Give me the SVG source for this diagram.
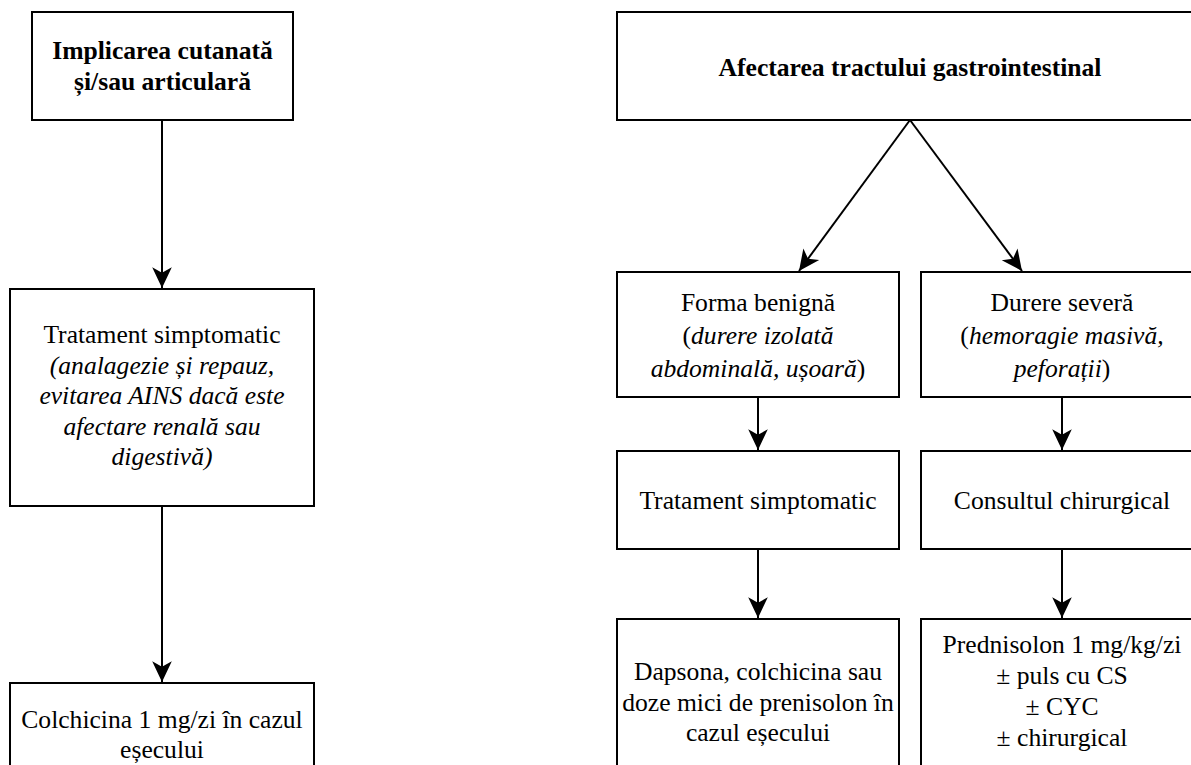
<svg xmlns="http://www.w3.org/2000/svg" width="1191" height="765" viewBox="0 0 1191 765">
<defs>
<marker id="arr" markerUnits="userSpaceOnUse" markerWidth="24" markerHeight="24" viewBox="-20 -10 22 20" refX="0" refY="0" orient="auto">
<path d="M0,0 L-19,-9 L-14,0 L-19,9 Z" fill="#000"/>
</marker>
<style>
.box{fill:#fff;stroke:#000;stroke-width:2}
.t{font-family:"Liberation Serif","Times New Roman",serif;font-size:25.6px;fill:#000;text-anchor:middle}
.b{font-weight:bold}
.i{font-style:italic}
.c{fill:none;stroke:#000;stroke-width:2;marker-end:url(#arr)}
</style>
</defs>
<rect width="1191" height="765" fill="#fff"/>
<g id="connectors">
<line class="c" x1="162" y1="120" x2="162" y2="288"/>
<line class="c" x1="162" y1="506" x2="162" y2="682"/>
<line class="c" x1="910" y1="120" x2="799" y2="271"/>
<line class="c" x1="910" y1="120" x2="1022" y2="271"/>
<line class="c" x1="758" y1="397" x2="758" y2="450"/>
<line class="c" x1="1062" y1="397" x2="1062" y2="450"/>
<line class="c" x1="758" y1="549" x2="758" y2="618"/>
<line class="c" x1="1062" y1="549" x2="1062" y2="618"/>
</g>
<g id="n1">
<rect class="box" x="32" y="12" width="261" height="108"/>
<text class="t b" x="162.5" y="59">Implicarea cutanată</text>
<text class="t b" x="162.5" y="90">și/sau articulară</text>
</g>
<g id="n2">
<rect class="box" x="10" y="289" width="304" height="217"/>
<text class="t" x="162" y="343">Tratament simptomatic</text>
<text class="t i" x="162" y="373.5">(analagezie și repauz,</text>
<text class="t i" x="162" y="404">evitarea AINS dacă este</text>
<text class="t i" x="162" y="434.5">afectare renală sau</text>
<text class="t i" x="162" y="465">digestivă)</text>
</g>
<g id="n3">
<rect class="box" x="10" y="683" width="304" height="100"/>
<text class="t" x="162" y="728">Colchicina 1 mg/zi în cazul</text>
<text class="t" x="162" y="758">eșecului</text>
</g>
<g id="n4">
<rect class="box" x="617" y="12" width="586" height="108"/>
<text class="t b" x="910" y="76">Afectarea tractului gastrointestinal</text>
</g>
<g id="n5">
<rect class="box" x="617" y="272" width="282" height="125"/>
<text class="t" x="758" y="311">Forma benignă</text>
<text class="t" x="758" y="344">(<tspan class="i">durere izolată</tspan></text>
<text class="t" x="758" y="377"><tspan class="i">abdominală, ușoară</tspan>)</text>
</g>
<g id="n6">
<rect class="box" x="921" y="272" width="282" height="125"/>
<text class="t" x="1062" y="311">Durere severă</text>
<text class="t" x="1062" y="344">(<tspan class="i">hemoragie masivă,</tspan></text>
<text class="t" x="1062" y="377"><tspan class="i">peforații</tspan>)</text>
</g>
<g id="n7">
<rect class="box" x="617" y="451" width="282" height="98"/>
<text class="t" x="758" y="509">Tratament simptomatic</text>
</g>
<g id="n8">
<rect class="box" x="921" y="451" width="282" height="98"/>
<text class="t" x="1062" y="509">Consultul chirurgical</text>
</g>
<g id="n9">
<rect class="box" x="617" y="619" width="282" height="170"/>
<text class="t" x="758" y="680">Dapsona, colchicina sau</text>
<text class="t" x="758" y="710.5">doze mici de prenisolon în</text>
<text class="t" x="758" y="741">cazul eșecului</text>
</g>
<g id="n10">
<rect class="box" x="921" y="619" width="282" height="170"/>
<text class="t" x="1062" y="653">Prednisolon 1 mg/kg/zi</text>
<text class="t" x="1062" y="684">± puls cu CS</text>
<text class="t" x="1062" y="715">± CYC</text>
<text class="t" x="1062" y="746">± chirurgical</text>
</g>
</svg>
